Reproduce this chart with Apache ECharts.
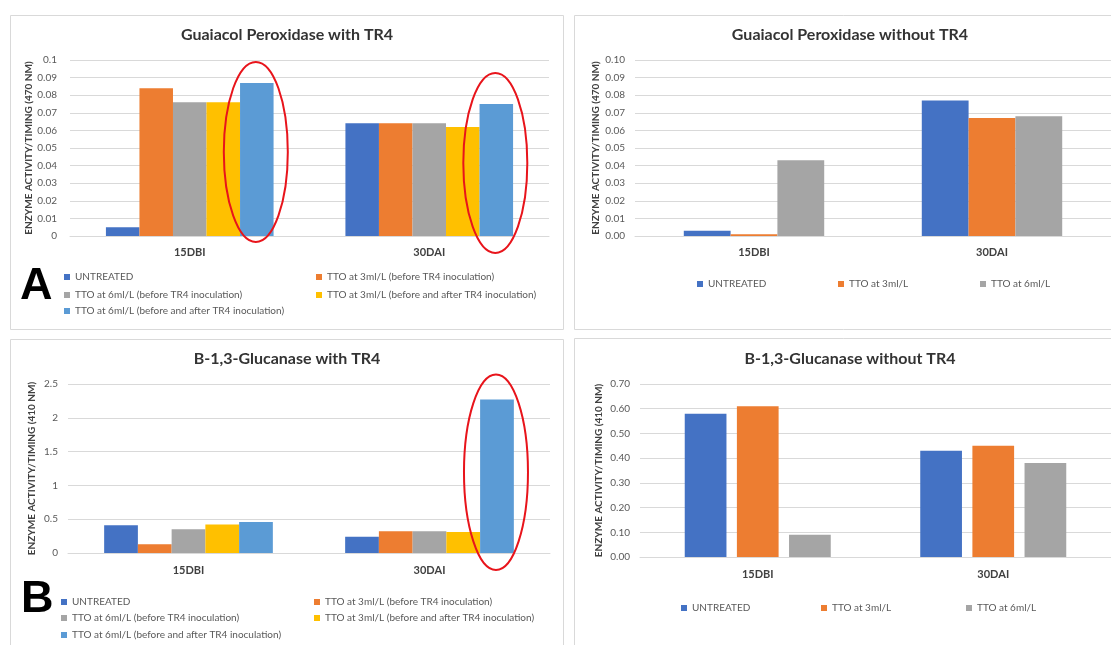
<!DOCTYPE html>
<html>
<head>
<meta charset="utf-8">
<title>Enzyme activity</title>
<script src="https://cdn.jsdelivr.net/npm/echarts@6/dist/echarts.min.js"></script>
<style>
html,body{margin:0;padding:0;background:#fff;}
#main{width:1111px;height:645px;}
</style>
</head>
<body>
<div id="main"></div>
<script>
// categories / series names
var categories = ['15DBI', '30DAI'];
var namesWithTR4 = [
	'UNTREATED',
	'TTO at 3ml/L (before TR4 inoculation)',
	'TTO at 6ml/L (before TR4 inoculation)',
	'TTO at 3ml/L (before and after TR4 inoculation)',
	'TTO at 6ml/L (before and after TR4 inoculation)'
];
var namesWithoutTR4 = ['UNTREATED', 'TTO at 3ml/L', 'TTO at 6ml/L'];

// Guaiacol peroxidase with TR4  [15DBI, 30DAI]
var gpxUntreated = [0.005, 0.064];
var gpxTto3Before = [0.084, 0.064];
var gpxTto6Before = [0.076, 0.064];
var gpxTto3BeforeAfter = [0.076, 0.062];
var gpxTto6BeforeAfter = [0.087, 0.075];

// Guaiacol peroxidase without TR4
var gpxNoUntreated = [0.003, 0.077];
var gpxNoTto3 = [0.001, 0.067];
var gpxNoTto6 = [0.043, 0.068];

// B-1,3-glucanase with TR4
var gluUntreated = [0.41, 0.24];
var gluTto3Before = [0.13, 0.32];
var gluTto6Before = [0.35, 0.32];
var gluTto3BeforeAfter = [0.42, 0.31];
var gluTto6BeforeAfter = [0.46, 2.27];

// B-1,3-glucanase without TR4
var gluNoUntreated = [0.58, 0.43];
var gluNoTto3 = [0.61, 0.45];
var gluNoTto6 = [0.09, 0.38];

// y axis ranges [max, interval]
var axisA = [0.1, 0.01];
var axisB = [0.1, 0.01];
var axisC = [2.5, 0.5];
var axisD = [0.7, 0.1];

var chartColor = ['#4472C4', '#ED7D31', '#A5A5A5', '#FFC000', '#5B9BD5'];
var FONT = 'Lato, "Liberation Sans", sans-serif';

var grids = [
	{left: 70, top: 60, width: 479, height: 176},
	{left: 635, top: 60, width: 476, height: 176},
	{left: 68, top: 384, width: 482, height: 169},
	{left: 640, top: 384, width: 474, height: 173}
];
var catGaps = ['30%', '41%', '30%', '38%'];
var barGaps = ['0%', '0%', '0%', '25%'];

var makeSeries = function(gi, names, lists){
	var out = [];
	for (var i = 0; i < lists.length; i++) {
		out.push({
			name: names[i],
			type: 'bar',
			xAxisIndex: gi,
			yAxisIndex: gi,
			barGap: barGaps[gi],
			barCategoryGap: catGaps[gi],
			itemStyle: {color: chartColor[i]},
			data: lists[i]
		});
	}
	return out;
};

var makeX = function(gi, margin){
	return {
		type: 'category',
		gridIndex: gi,
		data: categories,
		axisTick: {show: false},
		axisLine: {lineStyle: {color: '#d9d9d9', width: 1}},
		axisLabel: {margin: margin, fontSize: 11, fontWeight: 'bold', color: '#404040', fontFamily: FONT}
	};
};

var makeY = function(gi, ax, fmt, title, gap, margin){
	return {
		type: 'value',
		gridIndex: gi,
		min: 0,
		max: ax[0],
		interval: ax[1],
		name: title,
		nameLocation: 'middle',
		nameGap: gap,
		nameTextStyle: {fontSize: 10, fontWeight: 'bold', color: '#404040', fontFamily: FONT},
		axisLine: {show: false},
		axisTick: {show: false},
		splitLine: {lineStyle: {color: '#d9d9d9', width: 1}},
		axisLabel: {margin: margin, fontSize: 10, color: '#595959', fontFamily: FONT, formatter: fmt}
	};
};

var fmtGeneral = function(v){ return String(+v.toFixed(2)); };
var fmtFixed = function(v){ return v.toFixed(2); };

var legendItem = function(name, x, y){
	return {
		data: [name],
		left: x,
		top: y - 6,
		padding: 0,
		icon: 'rect',
		itemWidth: 6,
		itemHeight: 6,
		selectedMode: false,
		textStyle: {fontSize: 10, color: '#595959', fontFamily: FONT}
	};
};

var series = []
	.concat(makeSeries(0, namesWithTR4, [gpxUntreated, gpxTto3Before, gpxTto6Before, gpxTto3BeforeAfter, gpxTto6BeforeAfter]))
	.concat(makeSeries(1, namesWithoutTR4, [gpxNoUntreated, gpxNoTto3, gpxNoTto6]))
	.concat(makeSeries(2, namesWithTR4, [gluUntreated, gluTto3Before, gluTto6Before, gluTto3BeforeAfter, gluTto6BeforeAfter]))
	.concat(makeSeries(3, namesWithoutTR4, [gluNoUntreated, gluNoTto3, gluNoTto6]));

var chart = echarts.init(document.getElementById('main'));
chart.setOption({
	animation: false,
	grid: grids,
	xAxis: [makeX(0, 11), makeX(1, 11), makeX(2, 12), makeX(3, 12)],
	yAxis: [
		makeY(0, axisA, fmtGeneral, 'ENZYME ACTIVITY/TIMING (470 NM)', 36, 13),
		makeY(1, axisB, fmtFixed, 'ENZYME ACTIVITY/TIMING (470 NM)', 34, 10),
		makeY(2, axisC, fmtGeneral, 'ENZYME ACTIVITY/TIMING (410 NM)', 31, 10),
		makeY(3, axisD, fmtFixed, 'ENZYME ACTIVITY/TIMING (410 NM)', 36, 10)
	],
	legend: [
		legendItem(namesWithTR4[0], 64, 278),
		legendItem(namesWithTR4[2], 64, 296),
		legendItem(namesWithTR4[4], 64, 312),
		legendItem(namesWithTR4[1], 316, 278),
		legendItem(namesWithTR4[3], 316, 296),
		legendItem(namesWithoutTR4[0], 697, 285),
		legendItem(namesWithoutTR4[1], 838, 285),
		legendItem(namesWithoutTR4[2], 980, 285),
		legendItem(namesWithTR4[0], 61, 603),
		legendItem(namesWithTR4[2], 61, 619),
		legendItem(namesWithTR4[4], 61, 636),
		legendItem(namesWithTR4[1], 314, 603),
		legendItem(namesWithTR4[3], 314, 619),
		legendItem(namesWithoutTR4[0], 681, 609),
		legendItem(namesWithoutTR4[1], 821, 609),
		legendItem(namesWithoutTR4[2], 966, 609)
	],
	series: series
});

// red rings round the highlighted bars, placed from the axis scales
var ring = function(gi, catIndex, value, nBars, barPos, catGap, above, below){
	var g = grids[gi];
	var catW = g.width / categories.length;
	var barW = catW * (1 - catGap) / nBars;
	var cx = g.left + catW * (catIndex + 0.5) + (barPos - (nBars - 1) / 2) * barW - 1;
	var top = chart.convertToPixel({gridIndex: gi}, [catIndex, value])[1] - above;
	var bottom = chart.convertToPixel({gridIndex: gi}, [catIndex, 0])[1] + below;
	return {
		type: 'ellipse',
		z: 100,
		shape: {cx: cx, cy: (top + bottom) / 2, rx: 32, ry: (bottom - top) / 2},
		style: {fill: null, stroke: '#e8141b', lineWidth: 2}
	};
};

var box = function(x, y, w, h){
	return {type: 'rect', z: -10, shape: {x: x + 0.5, y: y + 0.5, width: w, height: h}, style: {fill: null, stroke: '#d9d9d9', lineWidth: 1}};
};
var title = function(txt, x, y){
	return {type: 'text', z: 10, style: {text: txt, x: x, y: y, align: 'center', verticalAlign: 'middle', fontSize: 16, fontWeight: 'bold', fill: '#333', fontFamily: FONT}};
};
var letter = function(txt, x, y){
	return {type: 'text', z: 10, style: {text: txt, x: x, y: y, align: 'left', verticalAlign: 'middle', fontSize: 45, fontWeight: 'bold', fill: '#000', fontFamily: '"Liberation Sans", Arial, sans-serif'}};
};

chart.setOption({
	graphic: {
		elements: [
			box(10, 15, 553, 314),
			box(574, 15, 545, 314),
			box(10, 339, 553, 320),
			box(574, 338, 545, 320),
			title('Guaiacol Peroxidase with TR4', 287, 35),
			title('Guaiacol Peroxidase without TR4', 850, 35),
			title('B-1,3-Glucanase with TR4', 287, 359),
			title('B-1,3-Glucanase without TR4', 850, 359),
			letter('A', 20, 287),
			letter('B', 21, 600),
			ring(0, 0, gpxTto6BeforeAfter[0], 5, 4, 0.30, 21, 6),
			ring(0, 1, gpxTto6BeforeAfter[1], 5, 4, 0.30, 31, 17),
			ring(2, 1, gluTto6BeforeAfter[1], 5, 4, 0.30, 25, 17)
		]
	}
});
</script>
</body>
</html>
